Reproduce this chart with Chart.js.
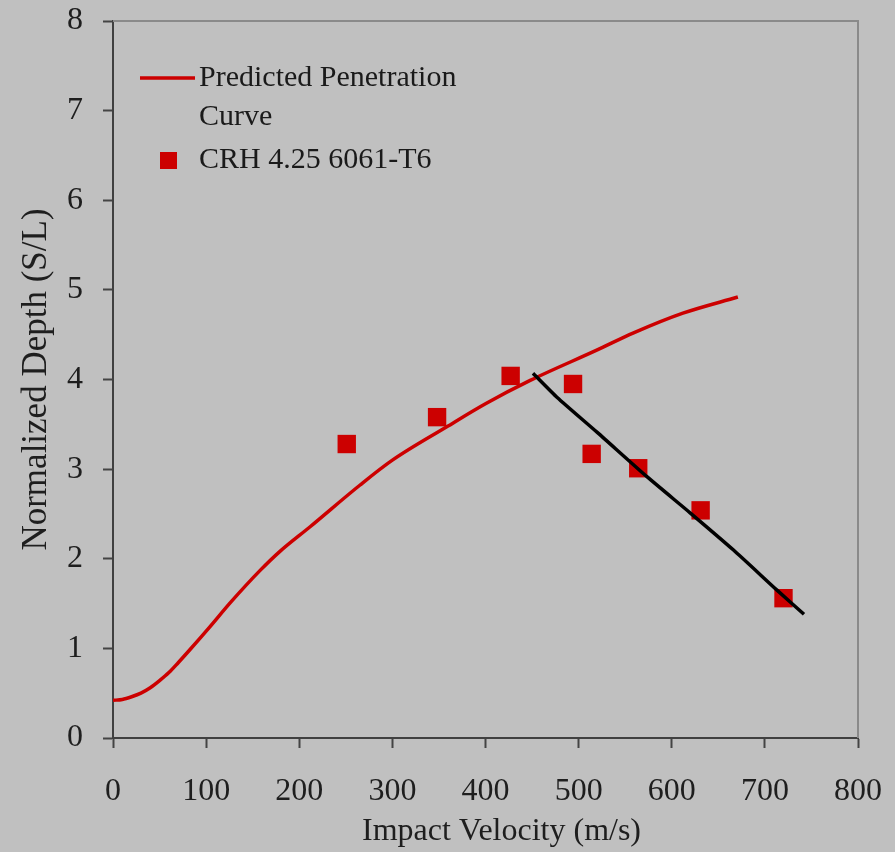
<!DOCTYPE html>
<html>
<head>
<meta charset="utf-8">
<title>Penetration depth vs impact velocity</title>
<script src="https://cdn.jsdelivr.net/npm/chart.js@4.4.1/dist/chart.umd.min.js"></script>
<style>
  html, body { margin: 0; padding: 0; background: #c0c0c0; }
  #wrap { width: 895px; height: 852px; position: relative; }
</style>
</head>
<body>
<div id="wrap"><canvas id="depthChart"></canvas></div>
<script>
"use strict";

// predicted penetration curve (velocity m/s, normalized depth S/L)
const curveVelocity = [0, 10, 20, 30, 40, 50, 60, 70, 83, 104, 126, 158, 179, 212, 265, 300, 358, 400, 448, 520, 559, 612, 671];
const curveDepth = [0.42, 0.43, 0.46, 0.50, 0.56, 0.64, 0.73, 0.84, 0.99, 1.24, 1.51, 1.87, 2.08, 2.36, 2.82, 3.10, 3.47, 3.73, 3.99, 4.33, 4.52, 4.74, 4.92];

// test shots, CRH 4.25 into 6061-T6
const testVelocity = [251, 348, 427, 494, 514, 564, 631, 720];
const testDepth = [3.28, 3.58, 4.04, 3.95, 3.17, 3.01, 2.54, 1.56];

// falling trend through the high velocity shots
const trendVelocity = [451, 477, 520, 574, 620, 666, 713, 742];
const trendDepth = [4.07, 3.80, 3.41, 2.91, 2.51, 2.10, 1.65, 1.38];

const xTicks = [0, 100, 200, 300, 400, 500, 600, 700, 800];
const yTicks = [0, 1, 2, 3, 4, 5, 6, 7, 8];

const red = '#cc0000';
const serif = "'Liberation Serif', 'DejaVu Serif', serif";

function toPoints(xs, ys) {
    return xs.map((x, i) => ({ x: x, y: ys[i] }));
}

/**
 * Ritar legenden inne i diagrammets övre vänstra hörn
 * med linje resp. kvadrat och radbruten text.
 */
const innerLegend = {
    id: 'innerLegend',
    afterDatasetsDraw(chart) {
        const { ctx, chartArea } = chart;
        const sets = chart.data.datasets.filter(ds => ds.inLegend);
        const x0 = chartArea.left;
        const y0 = chartArea.top;

        ctx.save();
        ctx.font = '30px ' + serif;
        ctx.fillStyle = '#1a1a1a';
        ctx.textBaseline = 'middle';

        let rowY = y0 + 57;
        sets.forEach(ds => {
            if (ds.showLine) {
                ctx.strokeStyle = ds.borderColor;
                ctx.lineWidth = 3.5;
                ctx.beginPath();
                ctx.moveTo(x0 + 27, rowY);
                ctx.lineTo(x0 + 82, rowY);
                ctx.stroke();
            } else {
                ctx.fillStyle = ds.backgroundColor;
                ctx.fillRect(x0 + 47, rowY - 8, 17, 17);
                ctx.fillStyle = '#1a1a1a';
            }
            const lines = Array.isArray(ds.label) ? ds.label : [ds.label];
            lines.forEach(line => {
                ctx.fillText(line, x0 + 86, rowY);
                rowY += 39;
            });
            rowY += 4;
        });
        ctx.restore();
    }
};

/**
 * Ram längs övre och högra kanten av ritytan.
 */
const plotFrame = {
    id: 'plotFrame',
    beforeDatasetsDraw(chart) {
        const { ctx, chartArea } = chart;
        ctx.save();
        ctx.strokeStyle = '#8a8a8a';
        ctx.lineWidth = 2;
        ctx.beginPath();
        ctx.moveTo(chartArea.left, chartArea.top);
        ctx.lineTo(chartArea.right, chartArea.top);
        ctx.lineTo(chartArea.right, chartArea.bottom);
        ctx.stroke();
        ctx.restore();
    }
};

const ctx = document.getElementById('depthChart');

new Chart(ctx, {
    type: 'scatter',
    data: {
        datasets: [
            {
                label: ['Predicted Penetration', 'Curve'],
                inLegend: true,
                data: toPoints(curveVelocity, curveDepth),
                showLine: true,
                borderColor: red,
                backgroundColor: red,
                borderWidth: 3.5,
                pointRadius: 0,
                cubicInterpolationMode: 'monotone',
                order: 2
            },
            {
                label: 'CRH 4.25 6061-T6',
                inLegend: true,
                data: toPoints(testVelocity, testDepth),
                showLine: false,
                pointStyle: 'rect',
                pointRadius: 13,
                pointHoverRadius: 13,
                borderWidth: 0,
                backgroundColor: red,
                borderColor: red,
                order: 1
            },
            {
                label: 'trend',
                inLegend: false,
                data: toPoints(trendVelocity, trendDepth),
                showLine: true,
                borderColor: '#000000',
                borderWidth: 3.5,
                pointRadius: 0,
                tension: 0.2,
                order: 0
            }
        ]
    },
    options: {
        responsive: true,
        maintainAspectRatio: false,
        animation: false,
        events: [],
        layout: {
            padding: { top: 21, right: 37, left: 0, bottom: 0 }
        },
        plugins: {
            legend: { display: false },
            tooltip: { enabled: false }
        },
        scales: {
            x: {
                type: 'linear',
                min: 0,
                max: 800,
                afterFit(scale) {
                    scale.height = 114;
                    scale.paddingLeft = 0;
                    scale.paddingRight = 0;
                },
                afterBuildTicks(scale) { scale.ticks = xTicks.map(v => ({ value: v })); },
                grid: { drawOnChartArea: false, drawTicks: true, tickLength: 10, tickColor: '#444444', tickWidth: 2 },
                border: { color: '#404040', width: 2 },
                ticks: {
                    color: '#1e1e1e',
                    padding: 24,
                    maxRotation: 0,
                    font: { family: serif, size: 32 }
                },
                title: {
                    display: true,
                    text: '\u00a0\u00a0\u00a0\u00a0Impact Velocity (m/s)',
                    color: '#1e1e1e',
                    font: { family: serif, size: 32, lineHeight: 1.2 },
                    padding: { top: 0, bottom: 1 }
                }
            },
            y: {
                type: 'linear',
                min: 0,
                max: 8,
                afterFit(scale) {
                    scale.width = 113;
                    scale.paddingTop = 0;
                    scale.paddingBottom = 0;
                },
                afterBuildTicks(scale) { scale.ticks = yTicks.map(v => ({ value: v })); },
                grid: { drawOnChartArea: false, drawTicks: true, tickLength: 10, tickColor: '#444444', tickWidth: 2 },
                border: { color: '#404040', width: 2 },
                ticks: {
                    color: '#1e1e1e',
                    padding: 20,
                    font: { family: serif, size: 32 }
                },
                title: {
                    display: true,
                    text: 'Normalized Depth (S/L)',
                    color: '#1e1e1e',
                    font: { family: serif, size: 35, lineHeight: 1.2 },
                    padding: { top: 16, bottom: 0 }
                }
            }
        }
    },
    plugins: [plotFrame, innerLegend]
});
</script>
</body>
</html>
